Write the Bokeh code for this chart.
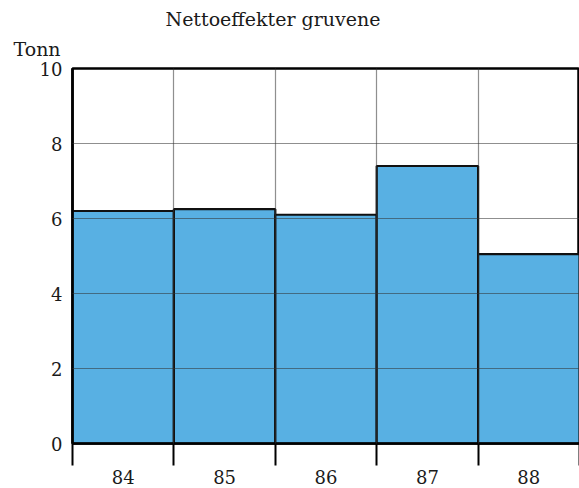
from bokeh.plotting import figure
from bokeh.models import FixedTicker, Title, Range1d
from bokeh.embed import file_html
from bokeh.resources import INLINE

years = ["84", "85", "86", "87", "88"]
values = [6.2, 6.25, 6.1, 7.4, 5.05]
y_ticks = [0, 2, 4, 6, 8, 10]
title_text = "Nettoeffekter gruvene"
unit_text = "Tonn"

FONT = "DejaVu Serif"
n = len(years)
centers = [i + 0.5 for i in range(n)]

p = figure(width=579, height=488, output_backend="svg", toolbar_location=None,
           x_range=Range1d(0, n), y_range=Range1d(0, 10),
           min_border_left=72, min_border_right=0, min_border_top=68, min_border_bottom=45)
p.title = None
p.background_fill_color = "white"
p.border_fill_color = "white"
p.outline_line_color = "black"
p.outline_line_width = 2.5

p.vbar(x=centers, top=values, width=1.0, bottom=0, fill_color="#58b0e3",
       line_color="#111111", line_width=2.2)

# grid
p.xgrid.ticker = FixedTicker(ticks=list(range(1, n)))
p.ygrid.ticker = FixedTicker(ticks=y_ticks[1:-1])
for g in (p.xgrid, p.ygrid):
    g.grid_line_color = "#333333"
    g.grid_line_alpha = 0.55
    g.grid_line_width = 1.2
    g.level = "overlay"

# x axis
xa = p.xaxis[0]
xa.ticker = FixedTicker(ticks=centers, minor_ticks=list(range(0, n + 1)))
xa.major_label_overrides = {c: y for c, y in zip(centers, years)}
xa.major_tick_out = 0
xa.major_tick_in = 0
xa.minor_tick_out = 22
xa.minor_tick_in = 0
xa.minor_tick_line_width = 2
xa.minor_tick_line_color = "black"
xa.axis_line_width = 2.5
xa.axis_line_color = "black"
xa.major_label_standoff = 4
xa.major_label_text_font = FONT
xa.major_label_text_font_size = "18px"
xa.major_label_text_color = "#1a1a1a"

# y axis
ya = p.yaxis[0]
ya.ticker = FixedTicker(ticks=y_ticks)
ya.major_tick_out = 0
ya.major_tick_in = 0
ya.minor_tick_out = 0
ya.minor_tick_in = 0
ya.axis_line_width = 2.5
ya.axis_line_color = "black"
ya.major_label_standoff = 10
ya.major_label_text_font = FONT
ya.major_label_text_font_size = "18px"
ya.major_label_text_color = "#1a1a1a"

p.add_layout(Title(text=unit_text, text_font=FONT, text_font_size="19px",
                   text_font_style="normal", text_color="#1a1a1a",
                   align="left", offset=-59, standoff=17), "above")
p.add_layout(Title(text=title_text, text_font=FONT, text_font_size="19px",
                   text_font_style="normal", text_color="#1a1a1a",
                   align="left", offset=93, standoff=-4), "above")

open("out.html", "w").write(file_html(p, INLINE))
